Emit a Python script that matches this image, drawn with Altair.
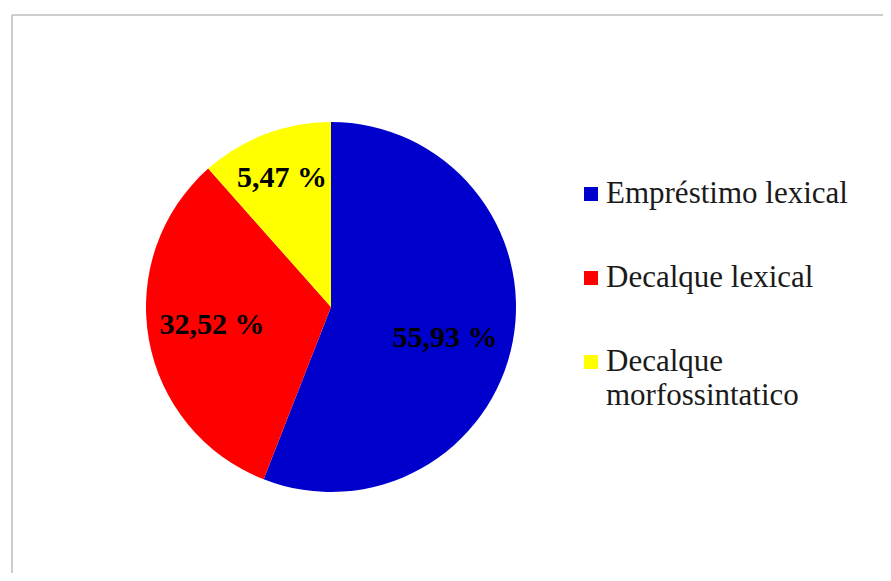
import altair as alt
import pandas as pd

# Categories (legend order = drawing order, clockwise from 12 o'clock)
categories = ["Empréstimo lexical", "Decalque lexical", "Decalque morfossintatico"]
# Slice sizes as drawn in the picture (percent of the circle)
slice_share = [55.93, 32.52, 11.55]
# Labels printed on the slices
slice_labels = ["55,93 %", "32,52 %", "5,47 %"]
# Legend texts (third wraps onto two lines)
legend_labels = ["Empréstimo lexical", "Decalque lexical", "Decalque\nmorfossintatico"]
colors = ["#0000cc", "#ff0000", "#ffff00"]
order_idx = [0, 1, 2]

df = pd.DataFrame({
    "category": categories,
    "share": slice_share,
    "label": slice_labels,
    "legend": legend_labels,
    "idx": order_idx,
})

W, H = 871, 558
CX, CY = 319, 292

color_scale = alt.Scale(domain=categories, range=colors)

base = alt.Chart(df)

frame_df = pd.DataFrame({"frame": ["border"]})
frame_left = alt.Chart(frame_df).mark_rule(color="#bdbdbd", strokeWidth=1.5).encode(
    x=alt.value(0), y=alt.value(0), y2=alt.value(H + 20)
)
frame_top = alt.Chart(frame_df).mark_rule(color="#bdbdbd", strokeWidth=1.5).encode(
    x=alt.value(0), x2=alt.value(W + 20), y=alt.value(0)
)

pie = base.mark_arc(radius=185, stroke=None).encode(
    theta=alt.Theta("share:Q", stack=True),
    color=alt.Color("category:N", scale=color_scale, legend=None),
    order=alt.Order("idx:Q"),
    x=alt.value(CX),
    y=alt.value(CY),
)

# label placement (radius from centre, vertical nudge) per slice, like the original's best-fit labels
label_place = {0: (116, 10), 1: (121, -3), 2: (138, 0)}

label_layers = []
for i, (r, dy) in label_place.items():
    lay = (
        base.transform_window(cum="sum(share)", sort=[alt.SortField("idx")])
        .transform_calculate(mid="datum.cum - datum.share / 2")
        .transform_filter(alt.datum.idx == i)
        .mark_text(
            radius=r,
            dy=dy,
            font="Liberation Serif",
            fontWeight="bold",
            fontSize=30,
            color="#000000",
            align="center",
            baseline="middle",
        )
        .encode(
            theta=alt.Theta("mid:Q", scale=alt.Scale(domain=[0, 100])),
            text="label:N",
            x=alt.value(CX),
            y=alt.value(CY),
        )
    )
    label_layers.append(lay)

ypos = alt.Y("idx:O", scale=alt.Scale(type="point", range=[179, 347], padding=0), axis=None)

legend_sym = base.mark_square(size=196, opacity=1).encode(
    x=alt.value(579),
    y=ypos,
    color=alt.Color("category:N", scale=color_scale, legend=None),
)

legend_txt = base.mark_text(
    font="Liberation Serif",
    fontSize=31,
    color="#1a1a1a",
    align="left",
    baseline="alphabetic",
    dy=9,
    lineBreak="\n",
    lineHeight=34,
).encode(
    x=alt.value(594),
    y=ypos,
    text="legend:N",
)

chart = alt.layer(frame_left, frame_top, pie, *label_layers, legend_sym, legend_txt).properties(
    width=W,
    height=H,
    autosize="none",
    padding={"left": 4, "top": 7, "right": 0, "bottom": 0},
    background="#ffffff",
).configure_view(
    stroke=None,
)

chart.save("out.html", embed_options={"renderer": "svg", "actions": False})
